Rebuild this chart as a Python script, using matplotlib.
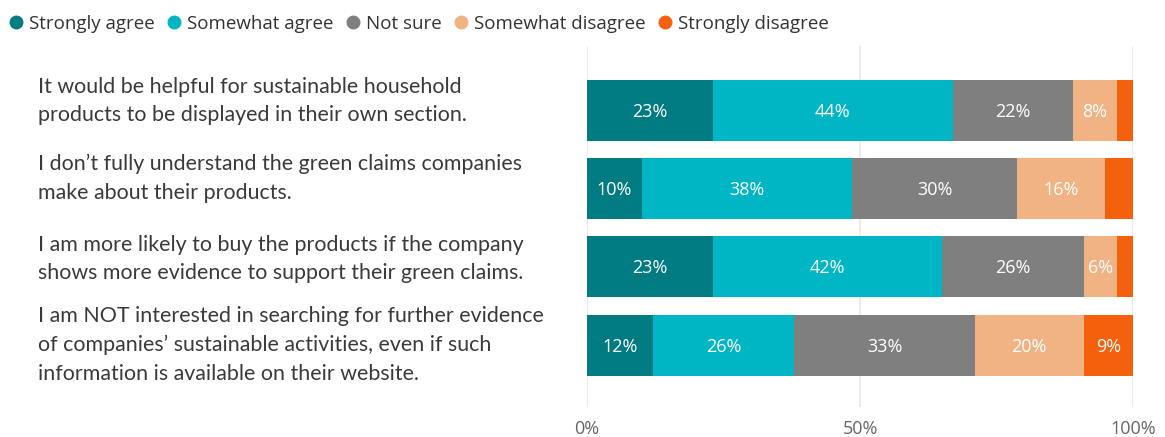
import matplotlib.pyplot as plt
import numpy as np
from matplotlib.lines import Line2D

# Survey responses, one row per statement (percent of respondents)
statements = [
    "It would be helpful for sustainable household\nproducts to be displayed in their own section.",
    "I don\u2019t fully understand the green claims companies\nmake about their products.",
    "I am more likely to buy the products if the company\nshows more evidence to support their green claims.",
    "I am NOT interested in searching for further evidence\nof companies\u2019 sustainable activities, even if such\ninformation is available on their website.",
]
responses = ["Strongly agree", "Somewhat agree", "Not sure", "Somewhat disagree", "Strongly disagree"]
strongly_agree = [23, 10, 23, 12]
somewhat_agree = [44, 38, 42, 26]
not_sure = [22, 30, 26, 33]
somewhat_disagree = [8, 16, 6, 20]
strongly_disagree = [3, 5, 3, 9]

tick_values = [0, 50, 100]
tick_labels = ["0%", "50%", "100%"]

colors = ["#007b82", "#00b6c4", "#7f7f7f", "#f1b383", "#f5600c"]

series = np.array([strongly_agree, somewhat_agree, not_sure, somewhat_disagree, strongly_disagree],
                  dtype=float)
# 100% stacked: each row is scaled to its own total
shares = series / series.sum(axis=0) * 100

fig = plt.figure(figsize=(11.65, 4.37), dpi=100)
ax = fig.add_axes([587 / 1165, 1 - 407 / 437, 546 / 1165, 361 / 437])

y = np.arange(len(statements))
left = np.zeros(len(statements))
for name, vals, widths, color in zip(responses, series, shares, colors):
    ax.barh(y, widths, left=left, height=0.78, color=color, label=name, zorder=2)
    for yi, (l, v, w) in enumerate(zip(left, vals, widths)):
        if v > 5:
            ax.text(l + w / 2, yi + 0.02, f"{int(v)}%", ha="center", va="center",
                    color="white", fontsize=13, family="Open Sans", zorder=3)
    left += widths

ax.set_xlim(0, 100)
ax.set_ylim(3.79, -0.82)
ax.set_xticks(tick_values)
ax.set_xticklabels(tick_labels, color="#666666", fontsize=13, family="Open Sans")
ax.tick_params(axis="x", length=0, pad=9)
ax.set_yticks([])
for x in tick_values:
    ax.axvline(x, color="#e8e8e8", lw=1.2, zorder=1)
for s in ax.spines.values():
    s.set_visible(False)

# statement text to the left of the bars
label_y = [101, 178, 259, 345]
for txt, yy in zip(statements, label_y):
    fig.text(38 / 1165, 1 - yy / 437, txt, ha="left", va="center",
             fontsize=15.4, family="Lato", color="#3a3a3a", linespacing=1.56)

handles = [Line2D([0], [0], marker="o", color="none", markerfacecolor=c,
                  markeredgecolor=c, markersize=9) for c in colors]
fig.legend(handles, responses, loc="upper left", bbox_to_anchor=(-0.01, 1.005),
           ncol=5, frameon=False, handletextpad=0.07, columnspacing=0.45,
           handlelength=1.2, prop={"family": "Open Sans", "size": 13.5},
           labelcolor="#333333")

fig.savefig("out.png", dpi=100)
